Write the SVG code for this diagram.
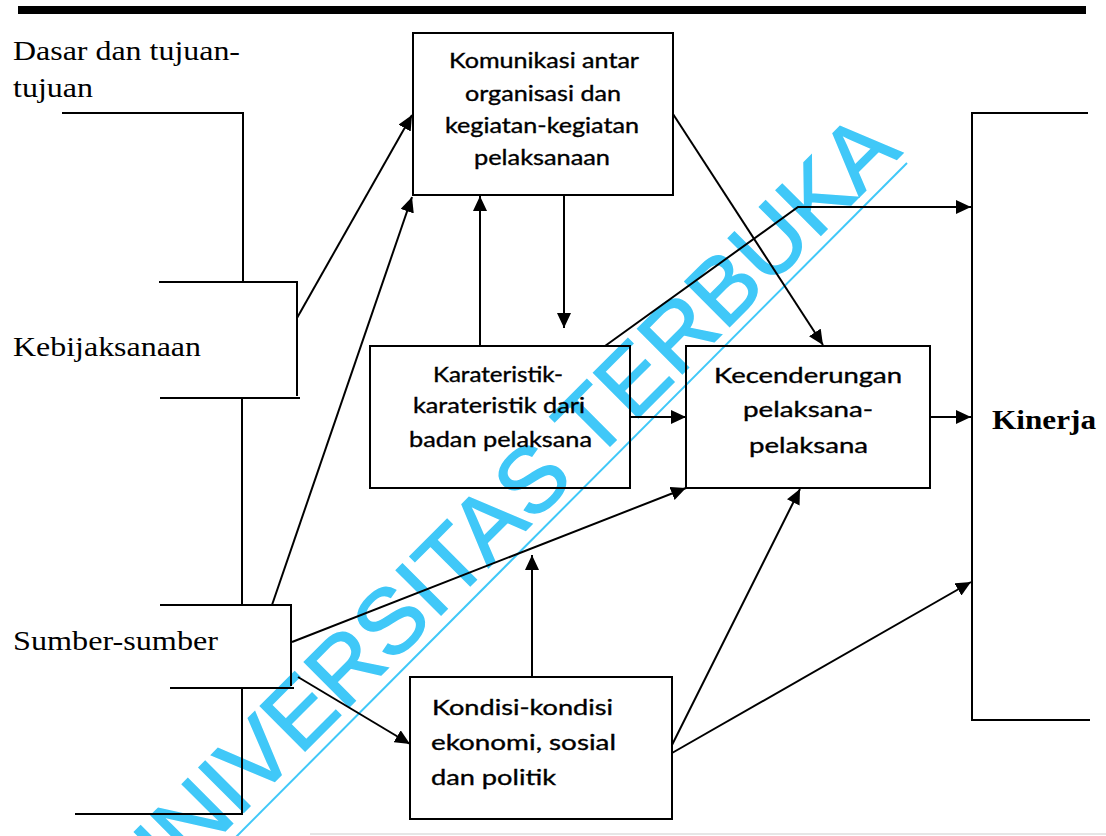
<svg xmlns="http://www.w3.org/2000/svg" width="1106" height="836" viewBox="0 0 1106 836">
<style>
.ln{stroke:#000;stroke-width:2;fill:none}
.bx{stroke:#000;stroke-width:2;fill:none}
.ser{font-family:"Liberation Serif","Times New Roman",serif;font-size:28px;fill:#000}
.san{font-family:Lato,"Open Sans","Liberation Sans",sans-serif;font-size:21px;fill:#000;stroke:#000;stroke-width:0.35px}
.wm{font-family:"Liberation Sans",Arial,sans-serif;font-size:92px;fill:#40c8f8;stroke:#40c8f8;stroke-width:1.5px}
</style>
<defs>
<marker id="ah" markerUnits="userSpaceOnUse" markerWidth="16" markerHeight="14" refX="15" refY="7" orient="auto">
<path d="M0,0 L15,7 L0,14 z" fill="#000"/>
</marker>
</defs>
<rect width="1106" height="836" fill="#fff"/>
<g id="watermark">
<text class="wm" transform="translate(143,913) rotate(-45)" textLength="1075" lengthAdjust="spacingAndGlyphs">UNIVERSITAS TERBUKA</text>
<line x1="228" y1="845" x2="907" y2="163" stroke="#40c8f8" stroke-width="2"/>
</g>
<rect x="18" y="6" width="1068" height="8" fill="#000"/>
<line x1="310" y1="834" x2="1106" y2="834" stroke="#e6e6e6" stroke-width="2"/>
<g id="dasar">
<text class="ser" x="13" y="60" textLength="227" lengthAdjust="spacingAndGlyphs">Dasar dan tujuan-</text>
<text class="ser" x="13" y="97" textLength="80" lengthAdjust="spacingAndGlyphs">tujuan</text>
<polyline class="ln" points="62,113 243,113 243,282"/>
</g>
<g id="kebijaksanaan">
<text class="ser" x="13" y="356" textLength="188" lengthAdjust="spacingAndGlyphs">Kebijaksanaan</text>
<polyline class="ln" points="159,282 297,282 297,396"/>
<line class="ln" x1="160" y1="398" x2="300" y2="398" stroke-width="3"/>
<line class="ln" x1="242" y1="398" x2="242" y2="605"/>
</g>
<g id="sumber">
<text class="ser" x="13" y="650" textLength="205" lengthAdjust="spacingAndGlyphs">Sumber-sumber</text>
<polyline class="ln" points="160,605 291,605 291,686"/>
<line class="ln" x1="170" y1="688" x2="294" y2="688"/>
<polyline class="ln" points="242,688 242,814 75,814"/>
</g>
<g id="komunikasi">
<rect class="bx" x="413" y="33" width="260" height="162"/>
<text class="san" x="449" y="68" textLength="190" lengthAdjust="spacingAndGlyphs">Komunikasi antar</text>
<text class="san" x="465" y="101" textLength="156" lengthAdjust="spacingAndGlyphs">organisasi dan</text>
<text class="san" x="445" y="133" textLength="194" lengthAdjust="spacingAndGlyphs">kegiatan-kegiatan</text>
<text class="san" x="474" y="165" textLength="136" lengthAdjust="spacingAndGlyphs">pelaksanaan</text>
</g>
<g id="karateristik">
<rect class="bx" x="370" y="346" width="260" height="142"/>
<text class="san" x="433" y="382" textLength="130" lengthAdjust="spacingAndGlyphs">Karateristik-</text>
<text class="san" x="413" y="413" textLength="172" lengthAdjust="spacingAndGlyphs">karateristik dari</text>
<text class="san" x="409" y="447" textLength="183" lengthAdjust="spacingAndGlyphs">badan pelaksana</text>
</g>
<g id="kecenderungan">
<rect class="bx" x="686" y="346" width="244" height="142"/>
<text class="san" x="714" y="383" textLength="188" lengthAdjust="spacingAndGlyphs">Kecenderungan</text>
<text class="san" x="743" y="417" textLength="130" lengthAdjust="spacingAndGlyphs">pelaksana-</text>
<text class="san" x="749" y="453" textLength="119" lengthAdjust="spacingAndGlyphs">pelaksana</text>
</g>
<g id="kondisi">
<rect class="bx" x="410" y="677" width="262" height="142"/>
<text class="san" x="432" y="715" textLength="181" lengthAdjust="spacingAndGlyphs">Kondisi-kondisi</text>
<text class="san" x="431" y="750" textLength="185" lengthAdjust="spacingAndGlyphs">ekonomi, sosial</text>
<text class="san" x="431" y="785" textLength="125" lengthAdjust="spacingAndGlyphs">dan politik</text>
</g>
<g id="kinerja">
<polyline class="ln" points="1088,113 972,113 972,720 1090,720" stroke-width="2.5"/>
<text class="ser" x="992" y="429" font-weight="bold" font-size="29" textLength="104" lengthAdjust="spacingAndGlyphs">Kinerja</text>
</g>
<g id="connectors">
<line class="ln" x1="297" y1="318" x2="412" y2="115" marker-end="url(#ah)"/>
<line class="ln" x1="272" y1="605" x2="412" y2="197" marker-end="url(#ah)"/>
<line class="ln" x1="480" y1="346" x2="480" y2="196" marker-end="url(#ah)"/>
<line class="ln" x1="564" y1="195" x2="564" y2="328" marker-end="url(#ah)"/>
<line class="ln" x1="673" y1="114" x2="823" y2="345" marker-end="url(#ah)"/>
<polyline class="ln" points="605,346 798,207 971,207" marker-end="url(#ah)"/>
<line class="ln" x1="630" y1="417" x2="686" y2="417" marker-end="url(#ah)"/>
<line class="ln" x1="930" y1="417" x2="971" y2="417" marker-end="url(#ah)"/>
<line class="ln" x1="292" y1="642" x2="686" y2="488" marker-end="url(#ah)"/>
<line class="ln" x1="298" y1="677" x2="410" y2="744" marker-end="url(#ah)"/>
<line class="ln" x1="532" y1="677" x2="532" y2="555" marker-end="url(#ah)"/>
<line class="ln" x1="672" y1="745" x2="800" y2="489" marker-end="url(#ah)"/>
<line class="ln" x1="672" y1="753" x2="971" y2="582" marker-end="url(#ah)"/>
</g>
</svg>
